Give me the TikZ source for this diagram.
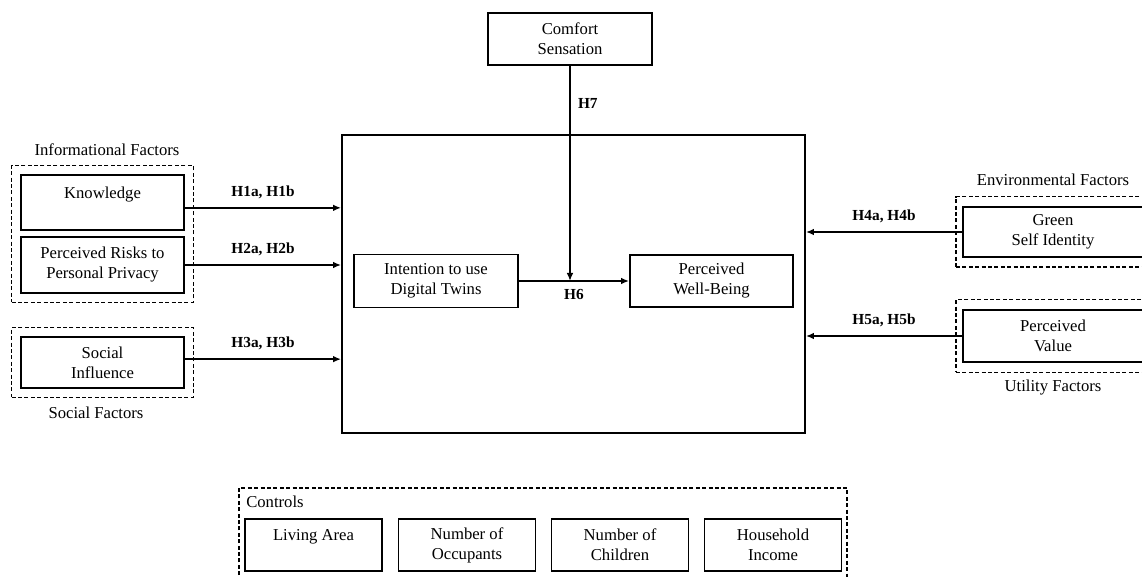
\documentclass[tikz,border=0pt]{standalone}
\usepackage{fontspec}
\setmainfont{Liberation Serif}
\usetikzlibrary{fit,arrows.meta}

\begin{document}
\begin{tikzpicture}[x=0.75pt,y=-0.75pt,
    font=\fontsize{12.5}{15}\selectfont,
    box/.style={draw,line width=1.4pt,align=center,inner sep=0pt,minimum width=122.25pt,minimum height=39pt},
    grp/.style={draw,line width=1.15pt,dash pattern=on 3pt off 1.8pt,inner xsep=6.3pt,inner ysep=6.3pt},
    arr/.style={line width=1.35pt,-{Latex[length=6pt,width=5pt]}},
    hyp/.style={font=\fontsize{11.5}{14}\selectfont\bfseries}]
    \useasboundingbox (0,0) rectangle (1142,577);
    \clip (0,0) rectangle (1142,577);
    \node[box,minimum height=41.25pt] (know) at (102.5,202.5) {Knowledge\\~};
    \node[box,minimum height=42pt] (risk) at (102.5,265) {Perceived Risks to\\Personal Privacy};
    \node[box,minimum height=38.25pt] (soc) at (102.5,362.5) {Social\\Influence};
    \node[grp,fit=(know)(risk)] (info) {};
    \node[grp,fit=(soc)] (socgrp) {};
    \node at (107,150) {Informational Factors};
    \node at (96,413) {Social Factors};
    \node[draw,line width=1.4pt,minimum width=347.25pt,minimum height=223.5pt] (model) at (573.5,284) {};
    \node[box,minimum width=123pt] (comfort) at (570,39) {Comfort\\Sensation};
    \node[box,minimum width=123pt,minimum height=39.75pt] (intent) at (436,281) {Intention to use\\Digital Twins};
    \node[box] (pwb) at (711.5,281) {Perceived\\Well-Being};
    \node[box,minimum width=135pt,minimum height=37.5pt] (green) at (1053,232) {Green\\Self Identity};
    \node[box,minimum width=135pt] (value) at (1053,336) {Perceived\\Value};
    \node[grp,inner xsep=4.5pt,inner ysep=7pt,fit=(green)] (env) {};
    \node[grp,inner xsep=4.5pt,inner ysep=7pt,fit=(value)] (util) {};
    \node at (1053,180) {Environmental Factors};
    \node at (1053,388) {Utility Factors};
    \draw[arr] ([yshift=-4pt]know.east) -- ([yshift=-4pt]know.east -| model.west) node[midway,above=3pt,hyp] {H1a, H1b};
    \draw[arr] (risk.east) -- (risk.east -| model.west) node[midway,above=3pt,hyp] {H2a, H2b};
    \draw[arr] ([yshift=2.5pt]soc.east) -- ([yshift=2.5pt]soc.east -| model.west) node[midway,above=3pt,hyp] {H3a, H3b};
    \draw[arr] (green.west) -- (green.west -| model.east) node[midway,above=3pt,hyp] {H4a, H4b};
    \draw[arr] (value.west) -- (value.west -| model.east) node[midway,above=3pt,hyp] {H5a, H5b};
    \draw[arr] (intent.east) -- (pwb.west) node[midway,below=2pt,hyp] {H6};
    \draw[arr] (comfort.south) -- (comfort.south |- intent.east) node[pos=0.176,right=2pt,hyp] {H7};
    \draw[grp] (239,620) |- (847,488) -- (847,620);
    \node[anchor=west,inner sep=0pt] (ctrl) at (246,502) {Controls};
    \node[box,minimum width=102.75pt] (area) at (313.5,545) {Living Area\\~};
    \node[box,minimum width=102.75pt] (occ) at (467,545) {Number of\\Occupants};
    \node[box,minimum width=102.75pt] (kids) at (620,545) {Number of\\Children};
    \node[box,minimum width=102.75pt] (inc) at (773,545) {Household\\Income};
\end{tikzpicture}
\end{document}
